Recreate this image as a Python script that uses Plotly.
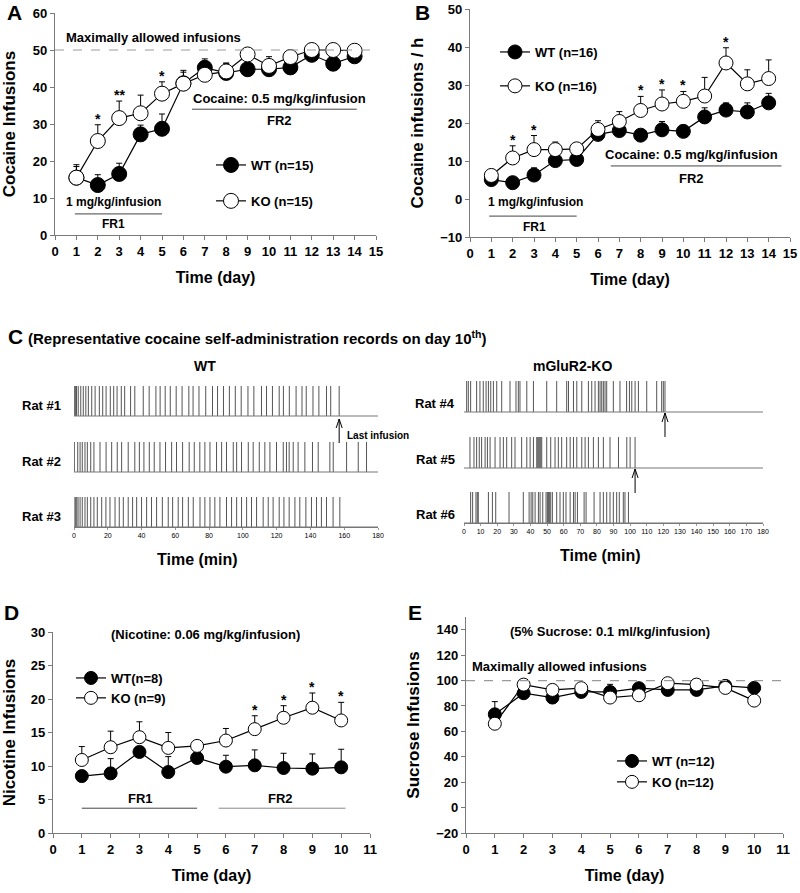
import plotly.graph_objects as go

FONT = "Liberation Sans, Arial, sans-serif"
W, H = 800, 893

# ---------------- DATA ----------------
# Panel A: cocaine infusions
days14 = list(range(1, 15))
a_wt = [15.5, 13.5, 16.5, 27.2, 28.7, 41.0, 45.2, 43.8, 44.8, 44.8, 45.3, 48.7, 46.3, 48.3]
a_wt_err = [3.0, 2.8, 2.9, 2.5, 4.0, 3.0, 2.4, 2.5, 1.0, 1.0, 1.0, 1.0, 1.0, 1.0]
a_ko = [15.5, 25.4, 31.6, 32.9, 38.2, 40.9, 43.3, 44.2, 48.8, 45.7, 48.1, 50.0, 50.0, 49.8]
a_ko_err = [3.5, 4.4, 4.6, 4.9, 3.2, 3.6, 1.0, 2.3, 0.5, 2.5, 0.5, 0.5, 0.3, 0.3]
a_star_days = [2, 3, 5]
a_star_text = ["*", "**", "*"]

# Panel B: cocaine infusions / h
b_wt = [5.1, 4.3, 6.3, 10.1, 10.4, 17.0, 18.0, 16.8, 18.2, 17.8, 21.6, 23.4, 22.9, 25.3]
b_wt_err = [0.7, 0.5, 1.9, 0.5, 0.5, 1.0, 1.0, 0.5, 2.2, 0.5, 2.4, 1.9, 2.4, 2.5]
b_ko = [6.2, 10.8, 13.0, 13.0, 13.2, 18.3, 20.4, 23.3, 25.0, 25.7, 27.1, 35.8, 30.3, 31.7]
b_ko_err = [1.4, 3.2, 3.7, 2.0, 1.0, 2.3, 2.6, 3.7, 3.7, 2.6, 4.9, 4.0, 3.7, 4.9]
b_star_days = [2, 3, 8, 9, 10, 12]

# Panel C: representative records on day 10 (infusion times, min)
rat1 = [0, 0.5, 1, 1.5, 2.5, 4, 5.5, 7, 8.5, 10.5, 12.5, 15, 17, 19, 21.5, 23.5, 25.5, 28, 30,
        33.5, 36, 41, 44.5, 48.5, 51, 54, 57, 60.5, 64, 68, 70.5, 74, 78, 82, 85, 88.5, 92,
        95.5, 99, 103, 106.5, 111, 114, 117.5, 121.5, 124, 127.5, 131.5, 135, 137.5, 141.5,
        145, 149.5, 152, 157]
rat2 = [0.2, 2.2, 3.6, 4.9, 6.5, 7.9, 9.9, 11.8, 15.4, 19, 22.3, 25.6, 28.2, 32.1, 36, 38.7,
        41.4, 44.6, 47.5, 50.9, 54.2, 57.8, 60.7, 64.3, 68.2, 71.2, 74.5, 77.5, 80.5, 84.4,
        87.4, 90.3, 94.3, 96.3, 99.2, 103.2, 106.1, 109.7, 113, 116, 119.9, 123.9, 125.8,
        127.4, 129.8, 132.7, 136.7, 141.2, 144.6, 151.5, 153.5, 161.4, 168.3, 173.2]
rat3 = [0, 0.8, 1.6, 2.4, 3.6, 4.9, 6.5, 7.9, 9.9, 11.8, 13.8, 16.4, 18.9, 21.3, 24.3, 26.8,
        29.2, 32.1, 34.7, 37.1, 40, 43, 45.9, 48.9, 52.3, 55.8, 58.4, 61.7, 64.3, 67.7, 70.6,
        74.6, 77.5, 80.5, 83.4, 86.4, 90.3, 93.3, 96.3, 99.2, 102.2, 105.1, 108.1, 112, 115,
        117.9, 121.5, 124.3, 127.4, 130.8, 133.7, 137.3, 140.6, 143.6, 146.5, 149.5, 153.4, 157.4]
rat4 = [1.6, 2.6, 4, 7.6, 9.6, 11.6, 13.3, 14.7, 16.1, 17.7, 19.7, 22.7, 27.7, 31.3, 32.7,
        33.7, 37.8, 41.8, 49.8, 55.8, 61.8, 62.9, 65.9, 67.9, 70.9, 74.9, 76.9, 78.9, 80.9,
        81.9, 82.9, 83.9, 84.9, 85.9, 89.9, 93.9, 97.9, 99.6, 101, 103, 105, 110, 116, 119,
        120, 121]
rat5 = [3.6, 6, 7.6, 9.2, 10.6, 12.7, 14.1, 15.7, 18.7, 21.7, 23.7, 25.7, 28.7, 30.7, 34.7,
        37.8, 39.8, 41.8, 43.8, 44.4, 45, 45.6, 46.2, 46.8, 49.8, 52.2, 54.8, 56.8, 58.8, 61.8,
        63.9, 65.9, 67.9, 70.9, 72.9, 74.9, 77.9, 80.9, 83.9, 87.9, 93, 98, 100, 103]
rat6 = [4, 5.2, 7.2, 8, 8.6, 14.7, 17.1, 19.1, 27.1, 35.7, 39.2, 40.4, 41.4, 42.8, 44.8, 45.8,
        47.4, 49.4, 50.2, 50.8, 51.4, 52.2, 53.2, 55.8, 57.8, 59.8, 61.4, 63.9, 65.9, 66.9,
        68.3, 72.3, 73.5, 78.3, 81.9, 83.9, 85.9, 87.9, 89.9, 91.9, 93.5, 95.9, 96.9, 99]
wt_rats = ["Rat #1", "Rat #2", "Rat #3"]
ko_rats = ["Rat #4", "Rat #5", "Rat #6"]
last_wt = [157, 160]          # last infusion arrows (rat1, rat3)
last_ko = [121, 103, 100]     # last infusion arrows (rat4, rat5, rat6)

# Panel D: nicotine
days10 = list(range(1, 11))
d_wt = [8.5, 8.9, 12.1, 9.1, 11.2, 9.9, 10.1, 9.7, 9.6, 9.8]
d_wt_err = [0.8, 2.2, 0.8, 2.3, 0.8, 1.7, 2.3, 2.2, 2.2, 2.7]
d_ko = [10.9, 12.8, 14.3, 12.7, 13.0, 13.8, 15.5, 17.2, 18.7, 16.8]
d_ko_err = [2.0, 2.4, 2.3, 2.3, 0.5, 1.8, 2.0, 1.8, 2.2, 2.7]
d_star_days = [7, 8, 9, 10]

# Panel E: sucrose
e_wt = [73.4, 90.0, 86.6, 91.0, 91.0, 94.0, 92.6, 92.6, 95.8, 94.2]
e_wt_err = [10.0, 2.0, 2.0, 2.0, 6.0, 2.0, 2.0, 2.0, 2.0, 2.0]
e_ko = [66.0, 96.8, 92.6, 94.0, 86.6, 88.4, 97.9, 96.8, 94.2, 84.2]
e_ko_err = [2.0, 1.5, 2.0, 2.0, 2.0, 2.0, 1.5, 1.5, 1.5, 2.0]

# ---------------- HELPERS ----------------
def px(x):
    return x / W

def py(y):
    return 1 - y / H

AXC = "#7a7a7a"
TXT = "black"
fig = go.Figure()
annotations = []
shapes = []


def series(x, y, err, name, filled, xa, ya, legend, size):
    fig.add_trace(go.Scatter(
        x=x, y=y, name=name, mode="lines+markers", xaxis=xa, yaxis=ya, legend=legend,
        line=dict(color="black", width=1.2),
        marker=dict(size=size, color="black" if filled else "white",
                    line=dict(color="black", width=1)),
        error_y=dict(type="data", array=err, arrayminus=[0] * len(err), symmetric=False,
                     color="black", thickness=1, width=3),
        legendgroup=name + legend,
    ))


def text(x, y, s, xref, yref, size=13, xanchor="center", yanchor="middle", bold=True, angle=0):
    annotations.append(dict(x=x, y=y, xref=xref, yref=yref, text=s, showarrow=False,
                            xanchor=xanchor, yanchor=yanchor, textangle=angle,
                            font=dict(family=FONT, size=size, color=TXT,
                                      weight="bold" if bold else "normal")))


def stars(days, mean, err, xref, yref, labels=None, shift=-4):
    for i, d in enumerate(days):
        k = d - 1
        s = labels[i] if labels else "*"
        annotations.append(dict(x=d, y=mean[k] + err[k], xref=xref, yref=yref, text=s,
                                showarrow=False, xanchor="center", yanchor="bottom",
                                yshift=shift,
                                font=dict(family=FONT, size=14, color=TXT, weight="bold")))


def hline(x0, x1, y, xref, yref, color="#444", dash=None, width=1):
    shapes.append(dict(type="line", x0=x0, x1=x1, y0=y, y1=y, xref=xref, yref=yref,
                       line=dict(color=color, width=width, dash=dash)))


def axis(domain, rng, dtick, anchor, tickvals=None, size=13, visible=True, title=None,
         standoff=10, title_size=16):
    d = dict(domain=domain, range=rng, anchor=anchor, showgrid=False, zeroline=False,
             automargin=False,
             showline=visible, linecolor=AXC, linewidth=1.2, ticks="outside" if visible else "",
             ticklen=4, tickcolor=AXC, showticklabels=visible,
             tickfont=dict(family=FONT, size=size, color=TXT, weight="bold"))
    if tickvals is not None:
        d["tickmode"] = "array"
        d["tickvals"] = tickvals
    else:
        d["dtick"] = dtick
        d["tick0"] = 0
    if title:
        d["title"] = dict(text=title, standoff=standoff,
                          font=dict(family=FONT, size=title_size, color=TXT, weight="bold"))
    return d


layout = dict(width=W, height=H, margin=dict(l=0, r=0, t=0, b=0, autoexpand=False),
              paper_bgcolor="white", plot_bgcolor="white", showlegend=True)

# ---------------- PANEL A ----------------
series(days14, a_wt, a_wt_err, "WT (n=15)", True, "x", "y", "legend", 15)
series(days14, a_ko, a_ko_err, "KO (n=15)", False, "x", "y", "legend", 15)
layout["xaxis"] = axis([px(55), px(376)], [0, 15], 1, "y", title="Time (day)", standoff=14)
layout["yaxis"] = axis([py(235), py(13)], [0, 60], 10, "x", title="Cocaine Infusions",
                       standoff=12, title_size=17)
stars(a_star_days, a_ko, a_ko_err, "x", "y", a_star_text)
hline(0, 1, 50, "x domain", "y", color="#9a9a9a", dash="dash", width=1.2)
text(0.4, 53.3, "Maximally allowed infusions", "x", "y", 13, xanchor="left")
text(2.75, 9.0, "1 mg/kg/infusion", "x", "y", 12)
hline(0.93, 5.0, 5.7, "x", "y")
text(2.75, 3.0, "FR1", "x", "y", 12)
text(10.5, 36.8, "Cocaine: 0.5 mg/kg/infusion", "x", "y", 13)
hline(6.4, 14.1, 34.0, "x", "y")
text(10.5, 31.0, "FR2", "x", "y", 13)
text(px(14), py(13), "A", "paper", "paper", 21)

# ---------------- PANEL B ----------------
series(days14, b_wt, b_wt_err, "WT (n=16)", True, "x2", "y2", "legend2", 14)
series(days14, b_ko, b_ko_err, "KO (n=16)", False, "x2", "y2", "legend2", 14)
layout["xaxis2"] = axis([px(470), px(790)], [0, 15], 1, "y2", title="Time (day)", standoff=14)
layout["yaxis2"] = axis([py(237), py(9)], [-10, 50], 10, "x2", title="Cocaine infusions / h",
                        standoff=12, title_size=17)
stars(b_star_days, b_ko, b_ko_err, "x2", "y2")
text(3.05, -0.8, "1 mg/kg/infusion", "x2", "y2", 12)
hline(0.9, 5.0, -4.5, "x2", "y2")
text(3.0, -7.4, "FR1", "x2", "y2", 12)
text(10.4, 11.6, "Cocaine: 0.5 mg/kg/infusion", "x2", "y2", 13)
hline(6.6, 14.6, 8.7, "x2", "y2")
text(10.4, 5.5, "FR2", "x2", "y2", 13)
text(px(422), py(13), "B", "paper", "paper", 21)

# ---------------- PANEL C ----------------
text(px(6), py(336), "C", "paper", "paper", 21, xanchor="left")
text(px(26), py(337), "(Representative cocaine self-administration records on day 10<sup>th</sup>)",
     "paper", "paper", 15, xanchor="left")
text(px(205), py(366), "WT", "paper", "paper", 14)
text(px(572), py(366), "mGluR2-KO", "paper", "paper", 14)

ROW_BASES = [111, 55, 0]


def raster(events_list, bar_h, xa, ya):
    for ev, base in zip(events_list, ROW_BASES):
        xs, ys = [], []
        for t in ev:
            xs += [t, t, None]
            ys += [base, base + bar_h, None]
        fig.add_trace(go.Scatter(x=xs, y=ys, mode="lines", xaxis=xa, yaxis=ya,
                                 line=dict(color="#555555", width=1), showlegend=False,
                                 hoverinfo="skip"))
        fig.add_trace(go.Scatter(x=[0, 180], y=[base, base], mode="lines", xaxis=xa, yaxis=ya,
                                 line=dict(color="#777777", width=1), showlegend=False,
                                 hoverinfo="skip"))


raster([rat1, rat2, rat3], 30, "x3", "y3")
raster([rat4, rat5, rat6], 31, "x4", "y4")


def raster_x(domain, anchor, dtick):
    return dict(domain=domain, range=[0, 180], anchor=anchor, dtick=dtick, automargin=False,
                tick0=0, showgrid=False, zeroline=False, showline=True, linecolor="#777",
                linewidth=1, ticks="outside", ticklen=2, tickcolor="#999",
                tickfont=dict(family=FONT, size=7, color=TXT))


layout["xaxis3"] = raster_x([px(74), px(378)], "y3", 20)
layout["yaxis3"] = dict(domain=[py(527), py(375)], range=[0, 152], anchor="x3", visible=False)
layout["xaxis4"] = raster_x([px(464), px(763)], "y4", 10)
layout["yaxis4"] = dict(domain=[py(523), py(372)], range=[0, 151], anchor="x4", visible=False)
text(px(197), py(559), "Time (min)", "paper", "paper", 16)
text(px(600), py(555), "Time (min)", "paper", "paper", 16)

for lbl, base in zip(wt_rats, ROW_BASES):
    text(px(63), base + 11, lbl, "paper", "y3", 13, xanchor="right")
for lbl, base in zip(ko_rats, ROW_BASES):
    text(px(457), base + 9, lbl, "paper", "y4", 13, xanchor="right")


def arrow(x, y, xref, yref, length=24):
    shapes.append(dict(type="path", xref=xref, yref=yref, xsizemode="pixel",
                       ysizemode="pixel", xanchor=x, yanchor=y,
                       path=f"M0,0 L0,-{length} M-3,-9 L0,0 L3,-9",
                       line=dict(color="black", width=1)))


arrow(last_wt[0], 108, "x3", "y3")
text(px(345), py(435), "Last infusion", "paper", "paper", 10, xanchor="left")
arrow(last_wt[1], -7, "x3", "y3")
arrow(last_ko[0], 110, "x4", "y4")
arrow(last_ko[1], 54, "x4", "y4")
arrow(last_ko[2], -1, "x4", "y4")

# ---------------- PANEL D ----------------
series(days10, d_wt, d_wt_err, "WT(n=8)", True, "x5", "y5", "legend3", 13)
series(days10, d_ko, d_ko_err, "KO (n=9)", False, "x5", "y5", "legend3", 13)
layout["xaxis5"] = axis([px(53), px(370)], [0, 11], 1, "y5", title="Time (day)", standoff=14)
layout["yaxis5"] = axis([py(833), py(632)], [0, 30], 5, "x5", title="Nicotine Infusions",
                        standoff=12, title_size=17)
stars(d_star_days, d_ko, d_ko_err, "x5", "y5")
text(5.28, 29.7, "(Nicotine: 0.06 mg/kg/infusion)", "x5", "y5", 13)
text(3.05, 5.2, "FR1", "x5", "y5", 13)
hline(1, 5, 3.7, "x5", "y5")
text(7.9, 5.2, "FR2", "x5", "y5", 13)
hline(5.75, 10.15, 3.7, "x5", "y5", color="#888")
text(px(2), py(612), "D", "paper", "paper", 21, xanchor="left")

# ---------------- PANEL E ----------------
series(days10, e_wt, e_wt_err, "WT (n=12)", True, "x6", "y6", "legend4", 13)
series(days10, e_ko, e_ko_err, "KO (n=12)", False, "x6", "y6", "legend4", 13)
layout["xaxis6"] = axis([px(466), px(783)], [0, 11], 1, "y6", title="Time (day)", standoff=14)
layout["yaxis6"] = axis([py(833), py(617)], [-20, 150], 20, "x6",
                        tickvals=[-20, 0, 20, 40, 60, 80, 100, 120, 140],
                        title="Sucrose Infusions", standoff=12, title_size=17)
hline(0, 1, 100, "x6 domain", "y6", color="#9a9a9a", dash="dash", width=1.2)
text(0.15, 110.8, "Maximally allowed infusions", "x6", "y6", 13, xanchor="left")
text(5.0, 138.4, "(5% Sucrose: 0.1 ml/kg/infusion)", "x6", "y6", 13)
text(px(406), py(612), "E", "paper", "paper", 21, xanchor="left")

# ---------------- LEGENDS ----------------
def legend(x, y, gap):
    return dict(x=px(x), y=py(y), xanchor="left", yanchor="top", bgcolor="rgba(0,0,0,0)",
                borderwidth=0, tracegroupgap=gap, traceorder="grouped",
                font=dict(family=FONT, size=13, color=TXT, weight="bold"))


layout["legend"] = legend(211, 150, 16)
layout["legend2"] = legend(495, 37, 14)
layout["legend3"] = legend(71, 663, 0)
layout["legend4"] = legend(612, 746, 1)

layout["annotations"] = annotations
layout["shapes"] = shapes
fig.update_layout(**layout)
fig.write_html("out.html", config={"displayModeBar": False},
               post_script="document.body.style.margin='0';")
